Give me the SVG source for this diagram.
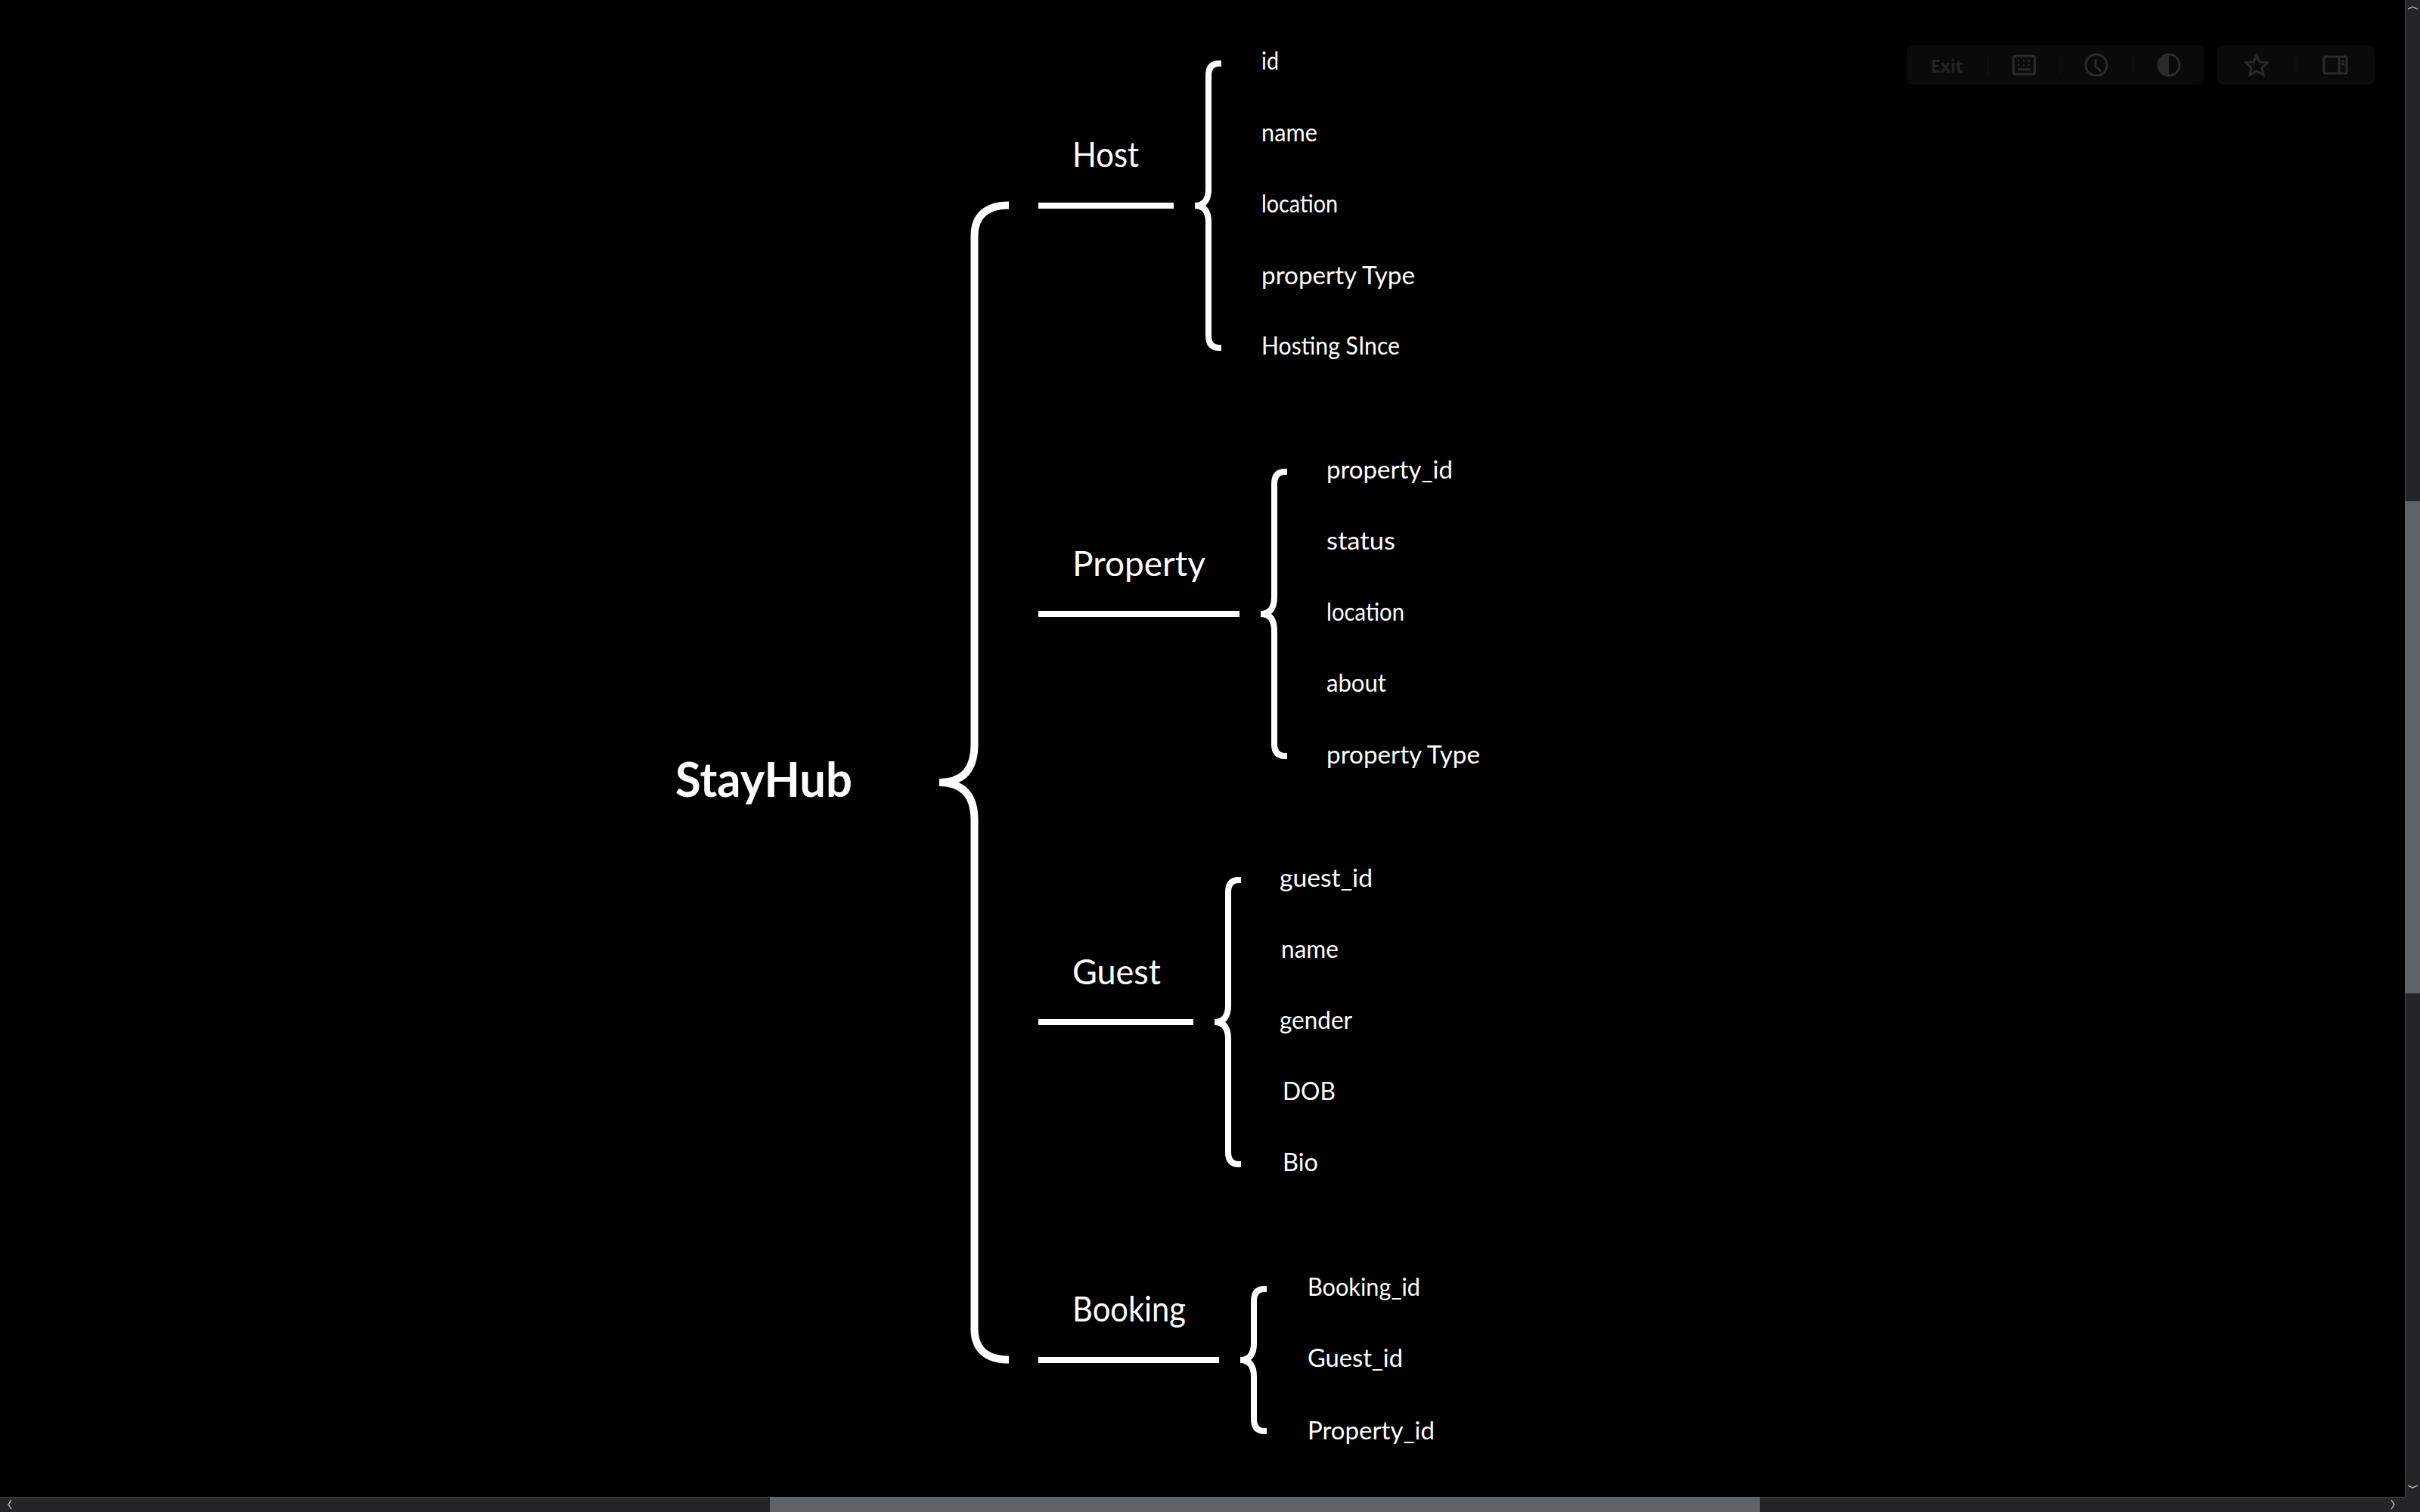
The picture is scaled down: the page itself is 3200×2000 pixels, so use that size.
<svg xmlns="http://www.w3.org/2000/svg" xmlns:xlink="http://www.w3.org/1999/xlink" width="3200" height="2000" viewBox="0 0 3200 2000">
<style>
text{font-family:"Lato","Noto Sans",sans-serif;fill:#fff;font-weight:400}
.root{font-size:64px;font-weight:700}
.title{font-size:46px}
.leaf{font-size:33px}
.line{stroke:#fff;stroke-width:8;fill:none}
.brace{stroke:#fff;stroke-width:8;fill:none}
.bigbrace{stroke:#fff;stroke-width:10;fill:none}
.panel{fill:#0a0a0a}
.tb{stroke:#2a2a2a;stroke-width:3;fill:none}
.div{stroke:#101010;stroke-width:2}
.arrow{stroke:#aaa;stroke-width:1.5;fill:none}
</style>
<defs>
<path id="b5" class="brace" d="M1615 84H1612Q1598 84 1598 100V250Q1598 272 1580 272Q1598 272 1598 294V444Q1598 460 1612 460H1615"/>
</defs>
<rect width="3200" height="2000" fill="#000"/>
<g id="connectors">
<path class="bigbrace" d="M1334 271.500C1305 271.500 1288.500 285 1288.500 312V985Q1288.500 1035 1242 1035Q1288.500 1035 1288.500 1085V1758C1288.500 1785 1305 1798.500 1334 1798.500"/>
<line class="line" x1="1373" y1="272" x2="1552" y2="272"/>
<line class="line" x1="1373" y1="812" x2="1639" y2="812"/>
<line class="line" x1="1373" y1="1352" x2="1578" y2="1352"/>
<line class="line" x1="1373" y1="1799" x2="1612" y2="1799"/>
<use xlink:href="#b5" href="#b5"/>
<use xlink:href="#b5" href="#b5" x="87" y="540"/>
<use xlink:href="#b5" href="#b5" x="26" y="1080"/>
<path class="brace" d="M1675 1705H1672Q1658 1705 1658 1721V1777Q1658 1799 1640 1799Q1658 1799 1658 1821V1877Q1658 1893 1672 1893H1675"/>
</g>
<g id="node-stayhub"><text class="root" x="893" y="1054" textLength="234" lengthAdjust="spacingAndGlyphs">StayHub</text></g>
<g id="node-host">
<text class="title" x="1418" y="221" textLength="88" lengthAdjust="spacingAndGlyphs">Host</text>
<text class="leaf" x="1668" y="92" textLength="23" lengthAdjust="spacingAndGlyphs">id</text>
<text class="leaf" x="1668" y="187" textLength="74" lengthAdjust="spacingAndGlyphs">name</text>
<text class="leaf" x="1668" y="281" textLength="101" lengthAdjust="spacingAndGlyphs">location</text>
<text class="leaf" x="1668" y="376" textLength="203" lengthAdjust="spacingAndGlyphs">property Type</text>
<text class="leaf" x="1668" y="469" textLength="183" lengthAdjust="spacingAndGlyphs">Hosting SInce</text>
</g>
<g id="node-property">
<text class="title" x="1418" y="762" textLength="176" lengthAdjust="spacingAndGlyphs">Property</text>
<text class="leaf" x="1754" y="633" textLength="167" lengthAdjust="spacingAndGlyphs">property_id</text>
<text class="leaf" x="1754" y="727" textLength="91" lengthAdjust="spacingAndGlyphs">status</text>
<text class="leaf" x="1754" y="821" textLength="103" lengthAdjust="spacingAndGlyphs">location</text>
<text class="leaf" x="1754" y="915" textLength="79" lengthAdjust="spacingAndGlyphs">about</text>
<text class="leaf" x="1754" y="1010" textLength="203" lengthAdjust="spacingAndGlyphs">property Type</text>
</g>
<g id="node-guest">
<text class="title" x="1418" y="1302" textLength="117" lengthAdjust="spacingAndGlyphs">Guest</text>
<text class="leaf" x="1692" y="1173" textLength="123" lengthAdjust="spacingAndGlyphs">guest_id</text>
<text class="leaf" x="1694" y="1267" textLength="76" lengthAdjust="spacingAndGlyphs">name</text>
<text class="leaf" x="1692" y="1361" textLength="96" lengthAdjust="spacingAndGlyphs">gender</text>
<text class="leaf" x="1696" y="1455" textLength="70" lengthAdjust="spacingAndGlyphs">DOB</text>
<text class="leaf" x="1696" y="1549" textLength="47" lengthAdjust="spacingAndGlyphs">Bio</text>
</g>
<g id="node-booking">
<text class="title" x="1418" y="1748" textLength="150" lengthAdjust="spacingAndGlyphs">Booking</text>
<text class="leaf" x="1729" y="1714" textLength="149" lengthAdjust="spacingAndGlyphs">Booking_id</text>
<text class="leaf" x="1729" y="1808" textLength="126" lengthAdjust="spacingAndGlyphs">Guest_id</text>
<text class="leaf" x="1729" y="1904" textLength="168" lengthAdjust="spacingAndGlyphs">Property_id</text>
</g>
<g id="toolbar">
<rect class="panel" x="2521" y="60" width="394" height="52" rx="8"/>
<rect class="panel" x="2932" y="60" width="208" height="52" rx="8"/>
<text x="2553" y="96" font-size="24" style="font-family:'Open Sans','Noto Sans',sans-serif;font-weight:700;fill:#232323" textLength="43" lengthAdjust="spacingAndGlyphs">Exit</text>
<path class="div" d="M2629 73V98M2725 73V98M2821 73V98M3036 73V98"/>
<rect class="tb" x="2662.500" y="74" width="28" height="24" rx="2"/>
<path class="tb" d="M2668 80h2M2675 80h2M2682 80h2M2668 86h2M2675 86h2M2682 86h2M2668 92h17"/>
<circle class="tb" cx="2772" cy="86" r="14"/>
<path class="tb" d="M2771 78V88L2778 94"/>
<circle class="tb" cx="2868" cy="86" r="14"/>
<path d="M2868 72A14 14 0 0 0 2868 100Z" fill="#2a2a2a"/>
<path class="tb" d="M2984 73L2988 82L2998 83L2991 90L2993 99L2984 94L2975 99L2977 90L2970 83L2980 82Z"/>
<rect class="tb" x="3073" y="75" width="30" height="22" rx="2"/>
<path class="tb" d="M3093 75V97M3096 81h4M3096 85h4"/>
</g>
<g id="scrollbars">
<rect x="3180" y="0" width="20" height="2000" fill="#242526"/>
<rect x="0" y="1980" width="3200" height="20" fill="#242526"/>
<rect x="3180" y="0" width="1.500" height="1980" fill="#3c3d3e"/>
<rect x="0" y="1980" width="3180" height="1.500" fill="#3c3d3e"/>
<rect x="3180" y="663" width="20" height="651" fill="#5f6368"/>
<rect x="1018" y="1980" width="1309" height="20" fill="#5f6368"/>
<path class="arrow" d="M3184 12L3190 9L3197 12M3184 1965L3190 1968L3197 1965M15 1984L11 1990L15 1996M3162 1984L3166 1990L3162 1996"/>
</g>
</svg>
